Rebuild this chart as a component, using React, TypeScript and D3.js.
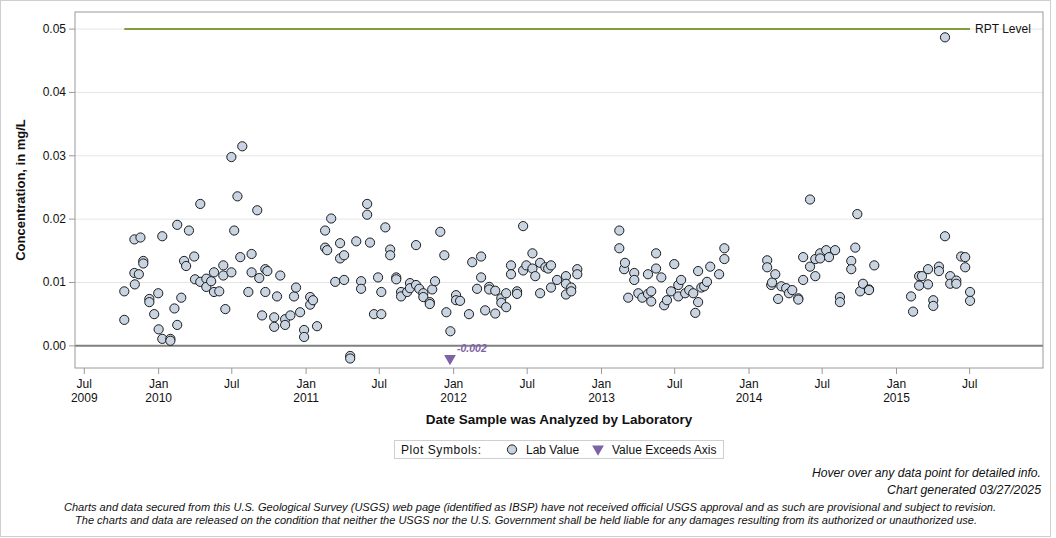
import * as d3 from 'd3'

type Sample = [string, number]

// Lab values by year: [date analyzed, concentration in mg/L]
const samples2009: Sample[] = [
  ['2009-10-08', 0.0041], ['2009-10-08', 0.0086], ['2009-11-02', 0.0168], ['2009-11-02', 0.0115],
  ['2009-11-03', 0.0097], ['2009-11-13', 0.0113], ['2009-11-17', 0.0171], ['2009-11-24', 0.0134],
  ['2009-11-24', 0.013], ['2009-12-09', 0.0074], ['2009-12-09', 0.0069], ['2009-12-21', 0.005],
  ['2009-12-31', 0.0083],
]

const samples2010: Sample[] = [
  ['2010-01-01', 0.0026], ['2010-01-10', 0.0011], ['2010-01-10', 0.0173], ['2010-01-30', 0.0011],
  ['2010-01-30', 0.0008], ['2010-02-09', 0.0059], ['2010-02-16', 0.0033], ['2010-02-16', 0.0191],
  ['2010-02-26', 0.0076], ['2010-03-05', 0.0134], ['2010-03-10', 0.0126], ['2010-03-17', 0.0182],
  ['2010-03-30', 0.0141], ['2010-04-01', 0.0105], ['2010-04-14', 0.0224], ['2010-04-14', 0.0101],
  ['2010-04-29', 0.0106], ['2010-04-29', 0.0093], ['2010-05-11', 0.0102], ['2010-05-18', 0.0116],
  ['2010-05-18', 0.0085], ['2010-05-31', 0.0086], ['2010-06-10', 0.0127], ['2010-06-10', 0.0111],
  ['2010-06-15', 0.0058], ['2010-06-30', 0.0116], ['2010-06-30', 0.0298], ['2010-07-07', 0.0182],
  ['2010-07-15', 0.0236], ['2010-07-22', 0.014], ['2010-07-27', 0.0315], ['2010-08-11', 0.0085],
  ['2010-08-19', 0.0145], ['2010-08-19', 0.0116], ['2010-09-02', 0.0214], ['2010-09-07', 0.0107],
  ['2010-09-14', 0.0048], ['2010-09-22', 0.0121], ['2010-09-22', 0.0085], ['2010-09-27', 0.0118],
  ['2010-10-14', 0.0045], ['2010-10-14', 0.003], ['2010-10-21', 0.0078], ['2010-10-29', 0.0111],
  ['2010-11-10', 0.0042], ['2010-11-10', 0.0033], ['2010-11-23', 0.0048], ['2010-12-02', 0.0078],
  ['2010-12-07', 0.0092], ['2010-12-17', 0.0053], ['2010-12-27', 0.0025], ['2010-12-27', 0.0014],
]

const samples2011: Sample[] = [
  ['2011-01-11', 0.0077], ['2011-01-11', 0.0065], ['2011-01-18', 0.0072], ['2011-01-28', 0.0031],
  ['2011-02-17', 0.0182], ['2011-02-17', 0.0155], ['2011-02-22', 0.0151], ['2011-03-04', 0.0201],
  ['2011-03-14', 0.0101], ['2011-03-26', 0.0162], ['2011-03-26', 0.0138], ['2011-04-05', 0.0143],
  ['2011-04-05', 0.0104], ['2011-04-20', -0.0016], ['2011-04-20', -0.002], ['2011-05-05', 0.0165],
  ['2011-05-17', 0.0102], ['2011-05-17', 0.009], ['2011-06-01', 0.0224], ['2011-06-01', 0.0207],
  ['2011-06-08', 0.0163], ['2011-06-18', 0.005], ['2011-06-28', 0.0108], ['2011-07-06', 0.005],
  ['2011-07-06', 0.0085], ['2011-07-16', 0.0187], ['2011-07-28', 0.0152], ['2011-07-28', 0.0143],
  ['2011-08-12', 0.0108], ['2011-08-12', 0.0105], ['2011-08-24', 0.0085], ['2011-08-24', 0.0078],
  ['2011-09-08', 0.0085], ['2011-09-15', 0.0099], ['2011-09-15', 0.0091], ['2011-09-30', 0.0096],
  ['2011-09-30', 0.0159], ['2011-10-08', 0.009], ['2011-10-18', 0.0083], ['2011-10-18', 0.0077],
  ['2011-11-03', 0.0069], ['2011-11-03', 0.0066], ['2011-11-09', 0.0089], ['2011-11-16', 0.0102],
  ['2011-11-29', 0.018], ['2011-12-09', 0.0143], ['2011-12-14', 0.0053], ['2011-12-24', 0.0023],
]

const samples2012: Sample[] = [
  ['2012-01-07', 0.008], ['2012-01-07', 0.0072], ['2012-01-17', 0.0071], ['2012-02-08', 0.005],
  ['2012-02-16', 0.0132], ['2012-02-28', 0.009], ['2012-03-09', 0.0141], ['2012-03-09', 0.0108],
  ['2012-03-19', 0.0056], ['2012-03-29', 0.0093], ['2012-03-29', 0.0089], ['2012-04-13', 0.0087],
  ['2012-04-13', 0.0051], ['2012-04-28', 0.0075], ['2012-04-28', 0.0068], ['2012-05-10', 0.0083],
  ['2012-05-10', 0.0061], ['2012-05-22', 0.0127], ['2012-05-22', 0.0113], ['2012-06-06', 0.0086],
  ['2012-06-06', 0.0082], ['2012-06-21', 0.0189], ['2012-06-21', 0.0119], ['2012-06-29', 0.0127],
  ['2012-07-14', 0.0146], ['2012-07-14', 0.0122], ['2012-07-21', 0.011], ['2012-08-02', 0.0131],
  ['2012-08-02', 0.0083], ['2012-08-15', 0.0124], ['2012-08-22', 0.0122], ['2012-08-29', 0.0127],
  ['2012-08-29', 0.0092], ['2012-09-13', 0.0104], ['2012-10-05', 0.011], ['2012-10-05', 0.0098],
  ['2012-10-05', 0.0081], ['2012-10-18', 0.0092], ['2012-10-18', 0.0086], ['2012-11-02', 0.0121],
  ['2012-11-02', 0.0113],
]

const samples2013: Sample[] = [
  ['2013-02-14', 0.0182], ['2013-02-14', 0.0154], ['2013-02-26', 0.0121], ['2013-02-28', 0.0131],
  ['2013-03-08', 0.0076], ['2013-03-23', 0.0115], ['2013-03-23', 0.0104], ['2013-04-02', 0.0083],
  ['2013-04-12', 0.0076], ['2013-04-26', 0.0113], ['2013-04-26', 0.0082], ['2013-05-04', 0.0086],
  ['2013-05-04', 0.007], ['2013-05-16', 0.0146], ['2013-05-16', 0.0122], ['2013-05-29', 0.0108],
  ['2013-06-05', 0.0064], ['2013-06-12', 0.0072], ['2013-06-22', 0.0086], ['2013-06-30', 0.0129],
  ['2013-07-10', 0.0096], ['2013-07-10', 0.0078], ['2013-07-17', 0.0104], ['2013-07-27', 0.0083],
  ['2013-08-06', 0.0088], ['2013-08-16', 0.0083], ['2013-08-21', 0.0052], ['2013-08-28', 0.0118],
  ['2013-08-28', 0.0069], ['2013-09-05', 0.0092], ['2013-09-12', 0.0094], ['2013-09-19', 0.0101],
  ['2013-09-27', 0.0125], ['2013-10-19', 0.0113], ['2013-11-01', 0.0154], ['2013-11-01', 0.0137],
]

const samples2014: Sample[] = [
  ['2014-02-15', 0.0135], ['2014-02-15', 0.0124], ['2014-02-25', 0.0096], ['2014-02-27', 0.01],
  ['2014-03-07', 0.0113], ['2014-03-14', 0.0074], ['2014-03-22', 0.0094], ['2014-04-03', 0.0091],
  ['2014-04-10', 0.0083], ['2014-04-18', 0.0088], ['2014-05-03', 0.0075], ['2014-05-03', 0.0073],
  ['2014-05-15', 0.014], ['2014-05-15', 0.0104], ['2014-06-01', 0.0231], ['2014-06-01', 0.0125],
  ['2014-06-14', 0.011], ['2014-06-14', 0.0137], ['2014-06-26', 0.0146], ['2014-06-26', 0.0138],
  ['2014-07-11', 0.0151], ['2014-07-18', 0.014], ['2014-08-02', 0.0151], ['2014-08-14', 0.0077],
  ['2014-08-14', 0.0069], ['2014-09-11', 0.0134], ['2014-09-11', 0.0121], ['2014-09-21', 0.0155],
  ['2014-09-26', 0.0208], ['2014-10-03', 0.0086], ['2014-10-10', 0.0098], ['2014-10-25', 0.0089],
  ['2014-10-25', 0.0088], ['2014-11-07', 0.0127],
]

const samples2015: Sample[] = [
  ['2015-02-06', 0.0078], ['2015-02-11', 0.0054], ['2015-02-26', 0.011], ['2015-02-26', 0.0095],
  ['2015-03-05', 0.011], ['2015-03-20', 0.0121], ['2015-03-20', 0.0097], ['2015-04-02', 0.0072],
  ['2015-04-02', 0.0063], ['2015-04-16', 0.0125], ['2015-04-16', 0.0118], ['2015-05-01', 0.0487],
  ['2015-05-01', 0.0173], ['2015-05-14', 0.011], ['2015-05-14', 0.0098], ['2015-05-29', 0.0103],
  ['2015-05-29', 0.0098], ['2015-06-10', 0.0141], ['2015-06-20', 0.014], ['2015-06-20', 0.0124],
  ['2015-07-02', 0.0085], ['2015-07-02', 0.0071],
]

// values plotted as a triangle with their value written beside them
const offAxisSamples: Sample[] = [['2011-12-23', -0.002]]

const rptLevel = 0.05
const yTicks = [0, 0.01, 0.02, 0.03, 0.04, 0.05]
const xDomain = ['2009-06-08', '2016-01-01']

const footerLines = [
  'Charts and data secured from this U.S. Geological Survey (USGS) web page (identified as IBSP) have not received official USGS approval and as such are provisional and subject to revision.',
  'The charts and data are released on the condition that neither the USGS nor the U.S. Government shall be held liable for any damages resulting from its authorized or unauthorized use.',
]

const FONT = '"Liberation Sans", Arial, sans-serif'
const W = 1056
const H = 538
const plot = { left: 75, right: 1043, top: 12, bottom: 368 }
const POINT_FILL = '#c9d4e3'
const PURPLE = '#7d62a6'
const GREEN = '#819d3d'

const parse = d3.timeParse('%Y-%m-%d')

export default function App() {
  const samples = [
    ...samples2009, ...samples2010, ...samples2011, ...samples2012,
    ...samples2013, ...samples2014, ...samples2015,
  ].map(([d, v]) => ({ date: parse(d) as Date, value: v }))

  const x = d3.scaleTime()
    .domain(xDomain.map((d) => parse(d) as Date))
    .range([plot.left, 1044])

  const y = d3.scaleLinear()
    .domain([-0.0035, 0.0527])
    .range([plot.bottom, plot.top])

  const xTicks = d3.timeMonth.every(6)!.range(parse('2009-07-01') as Date, x.domain()[1])
  const monthFmt = d3.timeFormat('%b')
  const yearFmt = d3.timeFormat('%Y')

  const [first, last] = d3.extent(samples, (d) => d.date) as [Date, Date]
  const triangle = d3.symbol(d3.symbolTriangle, 60)()

  return (
    <svg width={W} height={H} style={{ position: 'absolute', left: 0, top: 0, background: '#fff' }}
      fontFamily={FONT}>
      <rect x={0.5} y={0.5} width={1050} height={536} fill="#fff" stroke="#cfcfcf" />

      {/* gridlines */}
      {yTicks.filter((t) => t !== 0).map((t) => (
        <line key={t} x1={plot.left} x2={plot.right} y1={y(t)} y2={y(t)} stroke="#e6e6e6" />
      ))}
      <line x1={plot.left} x2={plot.right} y1={y(0)} y2={y(0)} stroke="#808080" strokeWidth={2} />

      {/* RPT level */}
      <line x1={x(first)} x2={x(last)} y1={y(rptLevel)} y2={y(rptLevel)} stroke={GREEN} strokeWidth={2} />
      <text x={x(last) + 5} y={y(rptLevel) + 4} fontSize={12} fill="#111">RPT Level</text>

      {/* lab values */}
      {samples.map((d, i) => (
        <circle key={i} cx={x(d.date)} cy={y(d.value)} r={4.6} fill={POINT_FILL} stroke="#1b1b1b" strokeWidth={1} />
      ))}

      {offAxisSamples.map(([d, v]) => {
        const cx = x(parse(d) as Date)
        const cy = y(v)
        return (
          <g key={d}>
            <path d={triangle} transform={`translate(${cx},${cy}) rotate(180)`} fill={PURPLE} />
            <text x={cx + 7} y={cy - 6} fontSize={10.5} fontWeight="bold" fontStyle="italic" fill={PURPLE}>
              {v.toFixed(3)}
            </text>
          </g>
        )
      })}

      {/* frame */}
      <rect x={plot.left} y={plot.top} width={plot.right - plot.left} height={plot.bottom - plot.top}
        fill="none" stroke="#9a9a9a" />

      {/* y axis */}
      {yTicks.map((t) => (
        <g key={t}>
          <line x1={plot.left - 6} x2={plot.left} y1={y(t)} y2={y(t)} stroke="#9a9a9a" />
          <text x={66} y={y(t) + 4} textAnchor="end" fontSize={12} fill="#111">{d3.format('.2f')(t)}</text>
        </g>
      ))}
      <text transform={`translate(25,${(plot.top + plot.bottom) / 2}) rotate(-90)`} textAnchor="middle"
        fontSize={13} fontWeight="bold" fill="#111">Concentration, in mg/L</text>

      {/* x axis */}
      {xTicks.map((t, i) => (
        <g key={+t}>
          <line x1={x(t)} x2={x(t)} y1={plot.bottom} y2={plot.bottom + 6} stroke="#9a9a9a" />
          <text x={x(t)} y={388} textAnchor="middle" fontSize={12} fill="#111">{monthFmt(t)}</text>
          {(i === 0 || t.getMonth() === 0) && (
            <text x={x(t)} y={402} textAnchor="middle" fontSize={12} fill="#111">{yearFmt(t)}</text>
          )}
        </g>
      ))}
      <text x={559} y={424} textAnchor="middle" fontSize={13.5} fontWeight="bold" fill="#111">
        Date Sample was Analyzed by Laboratory
      </text>

      {/* legend */}
      <rect x={394.5} y={440.5} width={329} height={18} fill="#fff" stroke="#cfcfcf" />
      <text x={401} y={454} fontSize={12} fill="#111" textLength={80} lengthAdjust="spacing">Plot Symbols:</text>
      <circle cx={512} cy={449.5} r={4.6} fill={POINT_FILL} stroke="#1b1b1b" />
      <text x={526} y={454} fontSize={12} fill="#111">Lab Value</text>
      <path d={triangle} transform="translate(598,449) rotate(180)" fill={PURPLE} />
      <text x={612} y={454} fontSize={12} fill="#111">Value Exceeds Axis</text>

      {/* notes */}
      <text x={1041} y={477} textAnchor="end" fontSize={12} fontStyle="italic" fill="#111"
        textLength={229} lengthAdjust="spacingAndGlyphs">Hover over any data point for detailed info.</text>
      <text x={1041} y={494} textAnchor="end" fontSize={12} fontStyle="italic" fill="#111"
        textLength={154} lengthAdjust="spacingAndGlyphs">Chart generated 03/27/2025</text>
      <text x={64} y={511} fontSize={11} fontStyle="italic" fill="#111"
        textLength={932} lengthAdjust="spacingAndGlyphs">{footerLines[0]}</text>
      <text x={75} y={524} fontSize={11} fontStyle="italic" fill="#111"
        textLength={902} lengthAdjust="spacingAndGlyphs">{footerLines[1]}</text>
    </svg>
  )
}
